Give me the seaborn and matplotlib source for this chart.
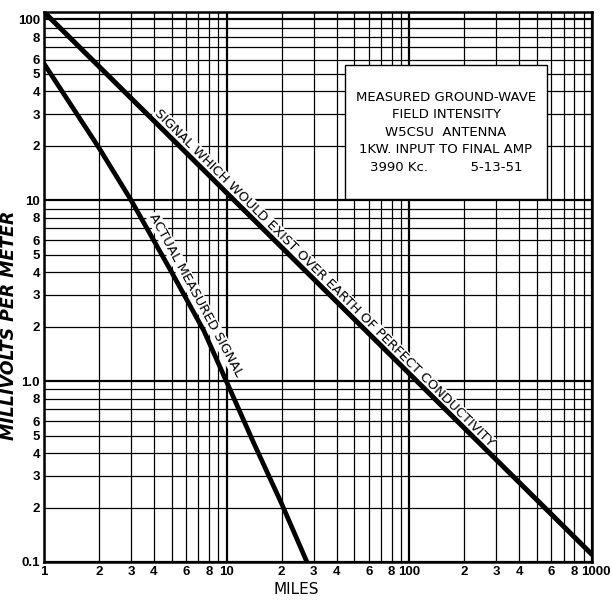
import matplotlib
matplotlib.use("Agg")
import matplotlib.pyplot as plt
from matplotlib.patches import Rectangle
from matplotlib.ticker import FixedLocator, FixedFormatter
from matplotlib.transforms import ScaledTranslation
import seaborn as sns

# data
miles_actual = [1, 2, 3, 5, 7.5, 10, 14, 20, 27.5]
mv_actual = [57, 19.5, 10, 4.0, 1.9, 0.99, 0.46, 0.21, 0.1]
miles_perfect = [1, 1000]
mv_perfect = [110, 0.11]

x_major = [1, 10, 100, 1000]
x_major_labels = ["1", "10", "100", "1000"]
x_minor = [m * d for d in (1, 10, 100) for m in range(2, 10)]
x_minor_labels = [str(m) if m in (2, 3, 4, 6, 8) else "" for d in (1, 10, 100) for m in range(2, 10)]

y_major = [0.1, 1, 10, 100]
y_major_labels = ["0.1", "1.0", "10", "100"]
y_minor = [m * d for d in (0.1, 1, 10) for m in range(2, 10)]
y_minor_labels = [str(m) if m in (2, 3, 4, 5, 6, 8) else "" for d in (0.1, 1, 10) for m in range(2, 10)]

title_lines = "MEASURED GROUND-WAVE\nFIELD INTENSITY\nW5CSU  ANTENNA\n1KW. INPUT TO FINAL AMP\n3990 Kc.          5-13-51"

sns.set_style("white")
plt.rcParams["font.family"] = ["DejaVu Sans"]
plt.rcParams["text.color"] = "black"
plt.rcParams["axes.labelcolor"] = "black"
plt.rcParams["xtick.color"] = "black"
plt.rcParams["ytick.color"] = "black"

fig = plt.figure(figsize=(6.12, 6.01), dpi=100)
ax = fig.add_axes([44 / 612, 39 / 601, 548 / 612, 550 / 601])

sns.lineplot(x=miles_perfect, y=mv_perfect, ax=ax, color="black", linewidth=3.6, zorder=5)
sns.lineplot(x=miles_actual, y=mv_actual, ax=ax, color="black", linewidth=3.4, zorder=5)

ax.set_xscale("log")
ax.set_yscale("log")
ax.set_xlim(1, 1000)
ax.set_ylim(0.1, 110)

ax.xaxis.set_major_locator(FixedLocator(x_major))
ax.xaxis.set_major_formatter(FixedFormatter(x_major_labels))
ax.xaxis.set_minor_locator(FixedLocator(x_minor))
ax.xaxis.set_minor_formatter(FixedFormatter(x_minor_labels))
ax.yaxis.set_major_locator(FixedLocator(y_major))
ax.yaxis.set_major_formatter(FixedFormatter(y_major_labels))
ax.yaxis.set_minor_locator(FixedLocator(y_minor))
ax.yaxis.set_minor_formatter(FixedFormatter(y_minor_labels))

ax.tick_params(which="both", length=0, labelsize=9.5, pad=3, colors="black")
for lab in ax.get_xticklabels(which="both") + ax.get_yticklabels(which="both"):
    lab.set_fontweight("bold")
    lab.set_family(["Liberation Sans", "DejaVu Sans"])

# nudge the "1000" label right so it clears the "8"
last = ax.xaxis.get_major_ticks()[-1].label1
last.set_transform(last.get_transform() + ScaledTranslation(4 / 100, 0, fig.dpi_scale_trans))

ax.grid(True, which="major", color="black", linewidth=1.6)
ax.grid(True, which="minor", color="black", linewidth=0.9)
for s in ax.spines.values():
    s.set_color("black")
    s.set_linewidth(1.8)

ax.set_xlabel("MILES", fontsize=11, color="black")
ax.xaxis.set_label_coords(0.46, -0.036)
ax.set_ylabel("MILLIVOLTS PER METER", fontsize=12.5, style="italic", fontweight="bold", color="black")
ax.yaxis.set_label_coords(-0.048, 0.43)

# white title box
ax.add_patch(Rectangle((0.549, 0.66), 0.3686, 0.2436, transform=ax.transAxes,
                       facecolor="white", edgecolor="black", linewidth=1.0, zorder=3))
ax.text(0.7336, 0.7818, title_lines, transform=ax.transAxes, ha="center", va="center",
        fontsize=9.5, linespacing=1.45, color="black", zorder=4)

ax.annotate("SIGNAL WHICH WOULD EXIST OVER EARTH OF PERFECT CONDUCTIVITY",
            xy=(31.7, 3.47), xytext=(4.1, 4.1), textcoords="offset points",
            rotation=-44.8, rotation_mode="anchor", ha="center", va="center",
            fontsize=9.5, color="black", zorder=4,
            bbox=dict(facecolor="white", edgecolor="none", pad=0.5))
ax.annotate("ACTUAL MEASURED SIGNAL",
            xy=(5.87, 2.78), xytext=(8.3, 4.3), textcoords="offset points",
            rotation=-61.6, rotation_mode="anchor", ha="center", va="center",
            fontsize=9.5, color="black", zorder=4,
            bbox=dict(facecolor="white", edgecolor="none", pad=0.5))

fig.savefig("out.png", dpi=100)
